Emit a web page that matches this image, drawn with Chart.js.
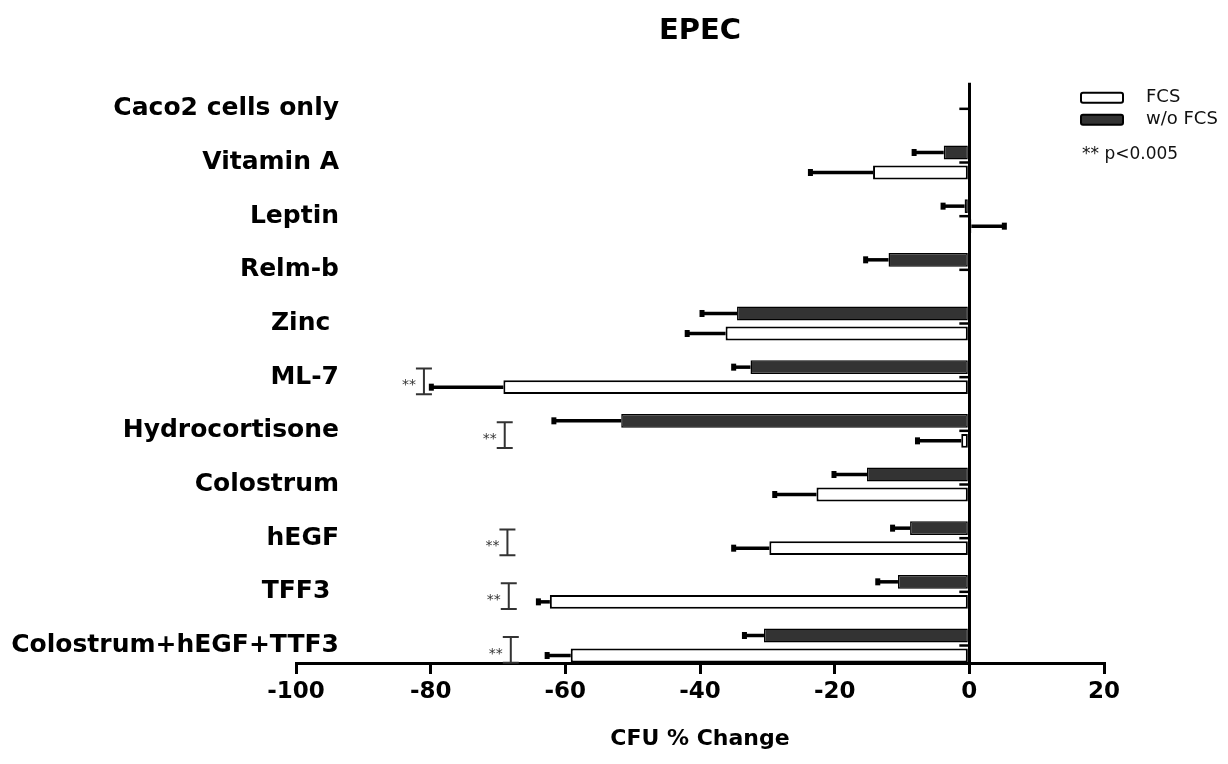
<!DOCTYPE html>
<html>
<head>
<meta charset="utf-8">
<title>EPEC</title>
<style>
  body { margin: 0; background: #fff; }
  #box { width: 1228px; height: 764px; }
</style>
</head>
<body>
<div id="box"><canvas id="epecChart"></canvas></div>
<script src="https://cdn.jsdelivr.net/npm/chart.js@4.4.1/dist/chart.umd.min.js"></script>
<script>
// categories, top to bottom
var categories = ['Caco2 cells only', 'Vitamin A', 'Leptin', 'Relm-b', 'Zinc ', 'ML-7',
                  'Hydrocortisone', 'Colostrum', 'hEGF', 'TFF3 ', 'Colostrum+hEGF+TTF3'];
// mean CFU % change and error
var woFcs    = [0, -3.8, -0.7, -12.0, -34.5, -32.5, -51.7, -15.2, -8.8, -10.6, -30.5];
var woFcsErr = [0, 4.4, 3.2, 3.4, 5.2, 2.5, 10.0, 4.9, 2.6, 3.0, 2.9];
var fcs      = [0, -14.3, 0.3, 0, -36.2, -69.2, -1.2, -22.7, -29.7, -62.3, -59.2];
var fcsErr   = [0, 9.3, 4.9, 0, 5.7, 10.7, 6.5, 6.2, 5.3, 1.7, 3.5];
// ** p<0.005 brackets, x position in % change (null = none)
var sigAt = [null, null, null, null, null, -81, -69, null, -68.6, -68.4, -68.1];
var xMin = -100, xMax = 20, xStep = 20;

var FONT = 'DejaVu Sans';
var LABEL_SIZE = 25;

// category labels run past the left edge of the plot (right edge at ~339px),
// so they are drawn mirrored and pushed back with a negative padding
var meas = document.createElement('canvas').getContext('2d');
meas.font = 'bold ' + LABEL_SIZE + 'px ' + FONT;
var widest = 0;
categories.forEach(function(c) { widest = Math.max(widest, meas.measureText(c).width); });
var labelPad = 43 - widest;

var errorBars = {
    id: 'errorBars',
    afterDatasetsDraw: function(chart) {
        var ctx = chart.ctx, x = chart.scales.x, y = chart.scales.y;
        var x0 = x.getPixelForValue(0);
        ctx.save();
        ctx.strokeStyle = '#000';
        ctx.fillStyle = '#000';
        chart.data.datasets.forEach(function(ds, d) {
            var meta = chart.getDatasetMeta(d);
            meta.data.forEach(function(bar, i) {
                var v = ds.data[i], e = ds.errors[i];
                if (!e) return;
                var end = x.getPixelForValue(v < 0 ? v - e : v + e);
                ctx.lineWidth = 3.5;
                ctx.beginPath();
                ctx.moveTo(bar.x, bar.y);
                ctx.lineTo(end, bar.y);
                ctx.stroke();
                ctx.fillRect(end - 2.5, bar.y - 3.5, 5, 7);
            });
        });
        // little category ticks left of the zero line
        ctx.lineWidth = 2.5;
        categories.forEach(function(c, i) {
            var py = y.getPixelForValue(i);
            ctx.beginPath();
            ctx.moveTo(x0 - 10, py);
            ctx.lineTo(x0, py);
            ctx.stroke();
        });
        ctx.restore();
    },
    afterDraw: function(chart) {
        var ctx = chart.ctx, x = chart.scales.x, y = chart.scales.y;
        var area = chart.chartArea;
        ctx.save();
        // significance brackets
        ctx.strokeStyle = '#333';
        ctx.fillStyle = '#333';
        ctx.lineWidth = 2;
        ctx.font = '14px ' + FONT;
        ctx.textAlign = 'right';
        ctx.textBaseline = 'alphabetic';
        sigAt.forEach(function(s, i) {
            if (s === null) return;
            var bx = x.getPixelForValue(s);
            var top = y.getPixelForValue(i - 0.16), bot = y.getPixelForValue(i + 0.32);
            var mid = (top + bot) / 2;
            ctx.beginPath();
            ctx.moveTo(bx, top); ctx.lineTo(bx, bot);
            ctx.moveTo(bx - 8, top); ctx.lineTo(bx + 8, top);
            ctx.moveTo(bx - 8, bot); ctx.lineTo(bx + 8, bot);
            ctx.stroke();
            ctx.fillText('**', bx - 8, mid + 8);
        });
        // legend, FCS first
        var lx = area.right - 23, ly = area.top + 10;
        ctx.textAlign = 'left';
        ctx.textBaseline = 'middle';
        ctx.font = '18px ' + FONT;
        var order = chart.data.datasets.slice().reverse();
        order.forEach(function(ds, k) {
            var by = ly + k * 22;
            ctx.fillStyle = ds.backgroundColor;
            ctx.strokeStyle = '#000';
            ctx.lineWidth = 2;
            ctx.beginPath();
            if (ctx.roundRect) ctx.roundRect(lx, by, 42, 10, 2); else ctx.rect(lx, by, 42, 10);
            ctx.fill();
            ctx.stroke();
            ctx.fillStyle = '#111';
            ctx.fillText(ds.label, lx + 65, by + 5);
        });
        ctx.font = '17px ' + FONT;
        ctx.fillText('** p<0.005', lx + 1, ly + 62);
        ctx.restore();
    }
};

new Chart(document.getElementById('epecChart'), {
    type: 'bar',
    data: {
        labels: categories.map(function(c, i) { return i; }),
        datasets: [{
            label: 'w/o FCS',
            data: woFcs,
            errors: woFcsErr,
            backgroundColor: '#333333',
            borderColor: '#000',
            borderWidth: 1.5,
            borderSkipped: false
        }, {
            label: 'FCS',
            data: fcs,
            errors: fcsErr,
            backgroundColor: '#ffffff',
            borderColor: '#000',
            borderWidth: 2,
            borderSkipped: false
        }]
    },
    options: {
        indexAxis: 'y',
        responsive: true,
        maintainAspectRatio: false,
        animation: false,
        categoryPercentage: 0.746,
        barPercentage: 0.69,
        layout: { padding: { left: 0, right: 124, top: 0, bottom: 0 } },
        plugins: {
            legend: { display: false },
            tooltip: { enabled: false },
            title: {
                display: true,
                text: 'EPEC',
                fullSize: false,
                color: '#000',
                font: { family: FONT, size: 29, weight: 'bold' },
                padding: { top: 14, bottom: 34 }
            }
        },
        scales: {
            x: {
                type: 'linear',
                min: xMin,
                max: xMax,
                z: 1,
                afterFit: function(s) { s.height = 101; },
                ticks: {
                    stepSize: xStep,
                    color: '#000',
                    padding: 4,
                    font: { family: FONT, size: 23, weight: 'bold' }
                },
                grid: {
                    color: function(c) { return c.tick && c.tick.value === 0 ? '#000' : 'rgba(0,0,0,0)'; },
                    lineWidth: 3,
                    tickColor: '#000',
                    tickWidth: 3,
                    tickLength: 11
                },
                border: { display: true, color: '#000', width: 3 },
                title: {
                    display: true,
                    text: 'CFU % Change',
                    color: '#000',
                    font: { family: FONT, size: 22, weight: 'bold' },
                    padding: { top: 0, bottom: 12 }
                }
            },
            y: {
                type: 'linear',
                reverse: true,
                offset: false,
                min: -0.485,
                max: 10.326,
                afterFit: function(s) { s.width = 296; },
                afterBuildTicks: function(s) {
                    s.ticks = categories.map(function(c, i) { return { value: i }; });
                },
                ticks: {
                    autoSkip: false,
                    mirror: true,
                    crossAlign: 'far',
                    padding: labelPad,
                    color: '#000',
                    font: { family: FONT, size: LABEL_SIZE, weight: 'bold' },
                    callback: function(v) { return categories[v]; }
                },
                grid: { display: false, drawTicks: false },
                border: { display: false }
            }
        }
    },
    plugins: [errorBars]
});
</script>
</body>
</html>
